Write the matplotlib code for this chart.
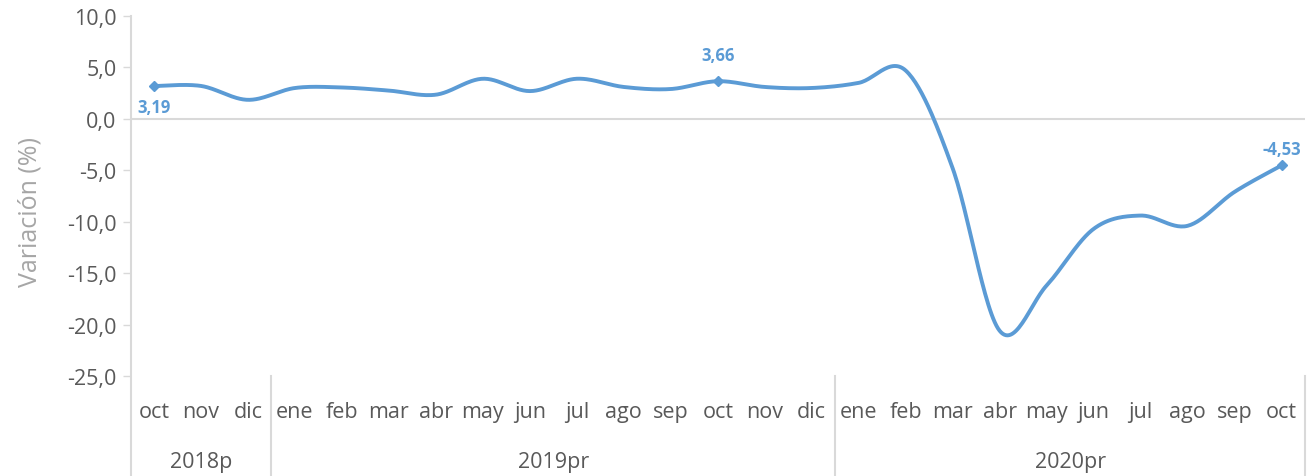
import numpy as np
import matplotlib
matplotlib.use("Agg")
import matplotlib.pyplot as plt
from matplotlib.ticker import FuncFormatter, MultipleLocator
import matplotlib.transforms as mtransforms

plt.rcParams['font.family'] = ['Open Sans', 'DejaVu Sans']

months = ["oct", "nov", "dic",
          "ene", "feb", "mar", "abr", "may", "jun", "jul", "ago", "sep", "oct", "nov", "dic",
          "ene", "feb", "mar", "abr", "may", "jun", "jul", "ago", "sep", "oct"]
years = ["2018p", "2019pr", "2020pr"]
year_counts = [3, 12, 10]
values = [3.19, 3.2, 1.85,
          3.0, 3.05, 2.75, 2.35, 3.9, 2.7, 3.9, 3.1, 2.9, 3.66, 3.1, 3.0,
          3.5, 4.7, -4.8, -20.6, -16.2, -10.7, -9.4, -10.4, -7.1, -4.53]
labels = ["3,19", "3,66", "-4,53"]
label_idx = [0, 12, 24]
label_dy = [-15, 19, 12]

LINE = "#5B9BD5"
TXT = "#595959"
GRID = "#D9D9D9"

def smooth(xs, ys, n=30):
    # Catmull-Rom style bezier smoothing (like Excel smoothed lines)
    P = np.column_stack([xs, ys]).astype(float)
    P_ext = np.vstack([P[0], P, P[-1]])
    out = []
    t = np.linspace(0, 1, n)[:, None]
    for i in range(1, len(P_ext) - 2):
        p0, p1, p2, p3 = P_ext[i - 1], P_ext[i], P_ext[i + 1], P_ext[i + 2]
        c1 = p1 + (p2 - p0) / 6.0
        c2 = p2 - (p3 - p1) / 6.0
        seg = ((1 - t) ** 3) * p1 + 3 * ((1 - t) ** 2) * t * c1 + 3 * (1 - t) * t ** 2 * c2 + t ** 3 * p2
        out.append(seg if i == 1 else seg[1:])
    out = np.vstack(out)
    return out[:, 0], out[:, 1]

W, H = 1310, 477
fig = plt.figure(figsize=(W / 100, H / 100), dpi=100)
ax = fig.add_axes([130.5 / W, 1 - 377 / H, (1305 - 130.5) / W, 360 / H])

x = np.arange(len(values))
sx, sy = smooth(x, values)
ax.plot(sx, sy, color=LINE, lw=2.8, solid_capstyle='round', zorder=3)
ax.plot(x[label_idx], np.array(values)[label_idx], 'D', color=LINE, ms=5, zorder=4)

for i, lab, dy in zip(label_idx, labels, label_dy):
    ax.annotate(lab, (x[i], values[i]), xytext=(0, dy), textcoords='offset points',
                ha='center', va='center', color=LINE, fontsize=12, fontweight='bold')

ax.set_xlim(-0.5, len(values) - 0.5)
ax.set_ylim(-25, 10)
ax.yaxis.set_major_locator(MultipleLocator(5))
ax.yaxis.set_major_formatter(FuncFormatter(lambda v, p: f"{v:.1f}".replace(".", ",")))
ax.tick_params(axis='y', colors=GRID, labelcolor=TXT, labelsize=15.5, length=6, width=1, pad=4)
ax.set_xticks([])
for s in ax.spines.values():
    s.set_visible(False)
ax.axhline(0, color=GRID, lw=1.5, zorder=1)

trans = mtransforms.blended_transform_factory(ax.transData, ax.transAxes)
ax.plot([-0.5, -0.5], [1, -100 / 360], transform=trans, color=GRID, lw=1.5, clip_on=False)
for i, m in enumerate(months):
    ax.text(x[i], -36 / 360, m, transform=trans, ha='center', va='center', color=TXT, fontsize=15.5)
start = 0
for yr, c in zip(years, year_counts):
    end = start + c
    ax.plot([end - 0.5, end - 0.5], [0, -100 / 360], transform=trans, color=GRID, lw=1.5, clip_on=False)
    ax.text((start + end - 1) / 2, -86 / 360, yr, transform=trans, ha='center', va='center',
            color=TXT, fontsize=15.5)
    start = end

fig.text(30 / W, 1 - 212 / H, "Variación (%)", rotation=90, ha='center', va='center',
         color="#A6A6A6", fontsize=18)

fig.savefig("out.png", dpi=100)
